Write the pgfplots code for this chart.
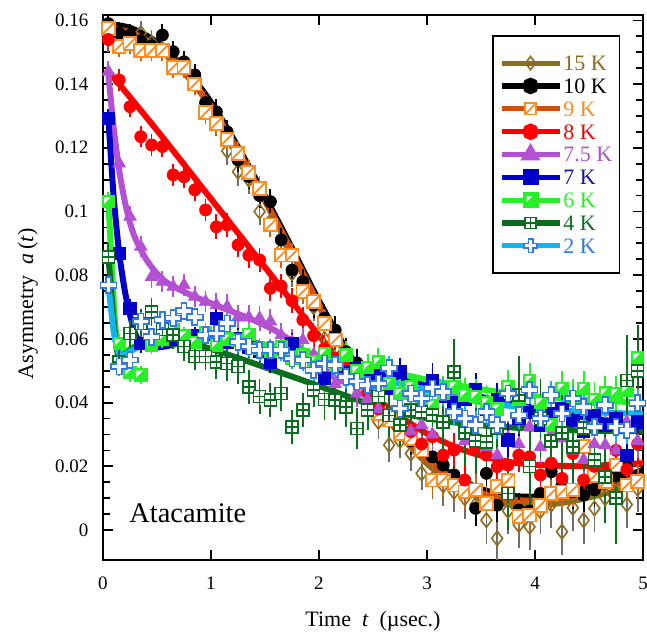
\documentclass[border=0pt]{standalone}
\usepackage{fontspec}
\setmainfont{Liberation Serif}
\usepackage{pgfplots}
\pgfplotsset{compat=1.18}
\usepackage{pgfplotstable}

\definecolor{c15}{RGB}{140,108,30}
\definecolor{c15e}{RGB}{110,110,110}
\definecolor{c9l}{RGB}{210,80,10}
\definecolor{c9m}{RGB}{255,140,30}
\definecolor{c9e}{RGB}{200,100,30}
\definecolor{c8}{RGB}{255,0,0}
\definecolor{c75}{RGB}{180,80,210}
\definecolor{c7}{RGB}{0,0,200}
\definecolor{c7t}{RGB}{20,20,170}
\definecolor{c6}{RGB}{40,240,40}
\definecolor{c4}{RGB}{10,110,30}
\definecolor{c2l}{RGB}{20,180,240}
\definecolor{c2m}{RGB}{50,120,230}

\pgfdeclareplotmark{slashsq}{%
  \pgfpathrectangle{\pgfpoint{-\pgfplotmarksize}{-\pgfplotmarksize}}{\pgfpoint{2\pgfplotmarksize}{2\pgfplotmarksize}}%
  \pgfusepathqfillstroke
  \pgfpathmoveto{\pgfpoint{-\pgfplotmarksize}{-\pgfplotmarksize}}%
  \pgfpathlineto{\pgfpoint{\pgfplotmarksize}{\pgfplotmarksize}}%
  \pgfusepathqstroke}
\pgfdeclareplotmark{halfsq}{%
  \pgfpathrectangle{\pgfpoint{-\pgfplotmarksize}{-\pgfplotmarksize}}{\pgfpoint{2\pgfplotmarksize}{2\pgfplotmarksize}}%
  \pgfusepathqfillstroke
  \pgfscope
  \pgfsetfillcolor{white}%
  \pgfpathmoveto{\pgfpoint{-0.7\pgfplotmarksize}{-0.35\pgfplotmarksize}}%
  \pgfpathlineto{\pgfpoint{-0.7\pgfplotmarksize}{0.7\pgfplotmarksize}}%
  \pgfpathlineto{\pgfpoint{0.35\pgfplotmarksize}{0.7\pgfplotmarksize}}%
  \pgfpathclose
  \pgfusepathqfill
  \endpgfscope}
\pgfdeclareplotmark{gridsq}{%
  \pgfpathrectangle{\pgfpoint{-\pgfplotmarksize}{-\pgfplotmarksize}}{\pgfpoint{2\pgfplotmarksize}{2\pgfplotmarksize}}%
  \pgfusepathqfillstroke
  \pgfpathmoveto{\pgfpoint{-\pgfplotmarksize}{0pt}}\pgfpathlineto{\pgfpoint{\pgfplotmarksize}{0pt}}%
  \pgfpathmoveto{\pgfpoint{0pt}{-\pgfplotmarksize}}\pgfpathlineto{\pgfpoint{0pt}{\pgfplotmarksize}}%
  \pgfusepathqstroke}
\pgfdeclareplotmark{gcross}{%
  \pgfpathmoveto{\pgfpoint{-0.33\pgfplotmarksize}{\pgfplotmarksize}}%
  \pgfpathlineto{\pgfpoint{0.33\pgfplotmarksize}{\pgfplotmarksize}}%
  \pgfpathlineto{\pgfpoint{0.33\pgfplotmarksize}{0.33\pgfplotmarksize}}%
  \pgfpathlineto{\pgfpoint{\pgfplotmarksize}{0.33\pgfplotmarksize}}%
  \pgfpathlineto{\pgfpoint{\pgfplotmarksize}{-0.33\pgfplotmarksize}}%
  \pgfpathlineto{\pgfpoint{0.33\pgfplotmarksize}{-0.33\pgfplotmarksize}}%
  \pgfpathlineto{\pgfpoint{0.33\pgfplotmarksize}{-\pgfplotmarksize}}%
  \pgfpathlineto{\pgfpoint{-0.33\pgfplotmarksize}{-\pgfplotmarksize}}%
  \pgfpathlineto{\pgfpoint{-0.33\pgfplotmarksize}{-0.33\pgfplotmarksize}}%
  \pgfpathlineto{\pgfpoint{-\pgfplotmarksize}{-0.33\pgfplotmarksize}}%
  \pgfpathlineto{\pgfpoint{-\pgfplotmarksize}{0.33\pgfplotmarksize}}%
  \pgfpathlineto{\pgfpoint{-0.33\pgfplotmarksize}{0.33\pgfplotmarksize}}%
  \pgfpathclose
  \pgfusepathqfillstroke}

% ---------------- data: t, asymmetry, error ----------------
\pgfplotstableread{
t v e
0.05 0.1540 0.0025
0.15 0.1530 0.0025
0.25 0.1545 0.0025
0.35 0.1560 0.0025
0.45 0.1530 0.0025
0.55 0.1510 0.0025
0.65 0.1480 0.0025
0.75 0.1460 0.0025
0.85 0.1410 0.0025
0.95 0.1340 0.0025
1.05 0.1290 0.003
1.15 0.1190 0.003
1.25 0.1125 0.003
1.35 0.1100 0.003
1.45 0.1000 0.003
1.55 0.0970 0.003
1.65 0.0880 0.003
1.75 0.0806 0.003
1.85 0.0760 0.003
1.95 0.0700 0.003
2.05 0.0600 0.004
2.15 0.0570 0.004
2.25 0.0520 0.004
2.35 0.0460 0.004
2.45 0.0400 0.004
2.55 0.0340 0.004
2.65 0.0267 0.004
2.75 0.0280 0.004
2.85 0.0240 0.004
2.95 0.0178 0.004
3.05 0.0160 0.005
3.15 0.0140 0.005
3.25 0.0120 0.005
3.35 0.0100 0.005
3.45 0.0080 0.005
3.55 0.0031 0.006
3.65 -0.0026 0.006
3.75 0.0060 0.006
3.85 0.0016 0.006
3.95 0.0010 0.006
4.05 0.0060 0.006
4.15 0.0080 0.006
4.25 -0.0005 0.006
4.35 0.0070 0.006
4.45 0.0031 0.006
4.55 0.0068 0.006
4.65 0.0100 0.006
4.75 0.0120 0.006
4.85 0.0080 0.006
4.95 0.0130 0.006
}\tA
\pgfplotstableread{
t v e
0.05 0.1590 0.002
0.15 0.1560 0.002
0.25 0.1554 0.002
0.35 0.1536 0.002
0.45 0.1520 0.002
0.55 0.1554 0.002
0.65 0.1502 0.002
0.75 0.1470 0.002
0.85 0.1429 0.002
0.95 0.1342 0.002
1.05 0.1313 0.0025
1.15 0.1250 0.0025
1.25 0.1162 0.0025
1.35 0.1110 0.0025
1.45 0.1050 0.0025
1.55 0.1031 0.0025
1.65 0.0911 0.0025
1.75 0.0816 0.0025
1.85 0.0780 0.0025
1.95 0.0706 0.0025
2.05 0.0665 0.003
2.15 0.0628 0.003
2.25 0.0560 0.003
2.35 0.0525 0.003
2.45 0.0450 0.003
2.55 0.0400 0.003
2.65 0.0350 0.003
2.75 0.0310 0.003
2.85 0.0280 0.003
2.95 0.0250 0.003
3.05 0.0230 0.004
3.15 0.0204 0.004
3.25 0.0173 0.004
3.35 0.0130 0.004
3.45 0.0068 0.004
3.55 0.0178 0.004
3.65 0.0078 0.004
3.75 0.0120 0.004
3.85 0.0063 0.004
3.95 0.0060 0.004
4.05 0.0115 0.004
4.15 0.0183 0.004
4.25 0.0140 0.004
4.35 0.0120 0.004
4.45 0.0110 0.004
4.55 0.0126 0.004
4.65 0.0150 0.004
4.75 0.0170 0.004
4.85 0.0199 0.004
4.95 0.0157 0.004
}\tB
\pgfplotstableread{
t v e
0.05 0.1575 0.002
0.15 0.1518 0.002
0.25 0.1528 0.002
0.35 0.1505 0.002
0.45 0.1505 0.002
0.55 0.1505 0.002
0.65 0.1453 0.002
0.75 0.1453 0.002
0.85 0.1400 0.002
0.95 0.1310 0.002
1.05 0.1277 0.0025
1.15 0.1227 0.0025
1.25 0.1183 0.0025
1.35 0.1123 0.0025
1.45 0.1073 0.0025
1.55 0.0958 0.0025
1.65 0.0863 0.0025
1.75 0.0863 0.0025
1.85 0.0748 0.0025
1.95 0.0717 0.0025
2.05 0.0649 0.003
2.15 0.0597 0.003
2.25 0.0540 0.003
2.35 0.0500 0.003
2.45 0.0440 0.003
2.55 0.0366 0.003
2.65 0.0345 0.003
2.75 0.0304 0.003
2.85 0.0288 0.003
2.95 0.0251 0.003
3.05 0.0157 0.004
3.15 0.0157 0.004
3.25 0.0141 0.004
3.35 0.0120 0.004
3.45 0.0126 0.004
3.55 0.0084 0.004
3.65 0.0136 0.004
3.75 0.0157 0.004
3.85 0.0042 0.004
3.95 0.0047 0.004
4.05 0.0078 0.004
4.15 0.0115 0.004
4.25 0.0120 0.004
4.35 0.0126 0.004
4.45 0.0262 0.004
4.55 0.0170 0.004
4.65 0.0152 0.004
4.75 0.0204 0.004
4.85 0.0141 0.004
4.95 0.0152 0.004
}\tC
\pgfplotstableread{
t v e
0.05 0.1540 0.002
0.15 0.1413 0.002
0.25 0.1329 0.002
0.35 0.1235 0.002
0.45 0.1209 0.002
0.55 0.1204 0.002
0.65 0.1115 0.002
0.75 0.1109 0.002
0.85 0.1068 0.002
0.95 0.1005 0.002
1.05 0.0952 0.0025
1.15 0.0958 0.0025
1.25 0.0895 0.0025
1.35 0.0863 0.0025
1.45 0.0848 0.0025
1.55 0.0759 0.0025
1.65 0.0766 0.0025
1.75 0.0720 0.0025
1.85 0.0660 0.0025
1.95 0.0610 0.0025
2.05 0.0570 0.003
2.15 0.0540 0.003
2.25 0.0518 0.003
2.35 0.0470 0.003
2.45 0.0430 0.003
2.55 0.0380 0.003
2.65 0.0360 0.003
2.75 0.0330 0.003
2.85 0.0309 0.003
2.95 0.0270 0.003
3.05 0.0293 0.004
3.15 0.0235 0.004
3.25 0.0251 0.004
3.35 0.0157 0.004
3.45 0.0260 0.004
3.55 0.0235 0.004
3.65 0.0199 0.004
3.75 0.0204 0.004
3.85 0.0235 0.004
3.95 0.0230 0.004
4.05 0.0173 0.004
4.15 0.0210 0.004
4.25 0.0162 0.004
4.35 0.0240 0.004
4.45 0.0157 0.004
4.55 0.0200 0.004
4.65 0.0180 0.004
4.75 0.0250 0.004
4.85 0.0190 0.004
4.95 0.0270 0.004
}\tD
\pgfplotstableread{
t v e
0.05 0.1439 0.002
0.15 0.1151 0.002
0.25 0.0984 0.002
0.35 0.0890 0.002
0.45 0.0795 0.002
0.55 0.0780 0.002
0.65 0.0764 0.002
0.75 0.0769 0.002
0.85 0.0733 0.002
0.95 0.0717 0.002
1.05 0.0706 0.0025
1.15 0.0701 0.0025
1.25 0.0668 0.0025
1.35 0.0668 0.0025
1.45 0.0665 0.0025
1.55 0.0655 0.0025
1.65 0.0612 0.0025
1.75 0.0591 0.0025
1.85 0.0596 0.0025
1.95 0.0550 0.0025
2.05 0.0500 0.003
2.15 0.0458 0.003
2.25 0.0470 0.003
2.35 0.0429 0.003
2.45 0.0410 0.003
2.55 0.0380 0.003
2.65 0.0360 0.003
2.75 0.0340 0.003
2.85 0.0310 0.003
2.95 0.0330 0.003
3.05 0.0300 0.004
3.15 0.0340 0.004
3.25 0.0408 0.004
3.35 0.0280 0.004
3.45 0.0300 0.004
3.55 0.0260 0.004
3.65 0.0235 0.004
3.75 0.0290 0.004
3.85 0.0270 0.004
3.95 0.0324 0.004
4.05 0.0260 0.004
4.15 0.0300 0.004
4.25 0.0288 0.004
4.35 0.0250 0.004
4.45 0.0220 0.004
4.55 0.0270 0.004
4.65 0.0267 0.004
4.75 0.0250 0.004
4.85 0.0340 0.004
4.95 0.0280 0.004
}\tE
\pgfplotstableread{
t v e
0.05 0.1293 0.0015
0.15 0.0869 0.0015
0.25 0.0695 0.0015
0.35 0.0586 0.0015
0.45 0.0580 0.0015
0.55 0.0617 0.0015
0.65 0.0600 0.0015
0.75 0.0595 0.0015
0.85 0.0610 0.0015
0.95 0.0615 0.0015
1.05 0.0665 0.002
1.15 0.0591 0.002
1.25 0.0600 0.002
1.35 0.0575 0.002
1.45 0.0560 0.002
1.55 0.0528 0.002
1.65 0.0570 0.002
1.75 0.0586 0.002
1.85 0.0550 0.002
1.95 0.0525 0.002
2.05 0.0476 0.003
2.15 0.0520 0.003
2.25 0.0495 0.003
2.35 0.0510 0.003
2.45 0.0470 0.003
2.55 0.0490 0.003
2.65 0.0445 0.003
2.75 0.0497 0.003
2.85 0.0430 0.003
2.95 0.0410 0.003
3.05 0.0470 0.004
3.15 0.0420 0.004
3.25 0.0400 0.004
3.35 0.0410 0.004
3.45 0.0440 0.004
3.55 0.0380 0.004
3.65 0.0408 0.004
3.75 0.0283 0.004
3.85 0.0350 0.004
3.95 0.0370 0.004
4.05 0.0330 0.004
4.15 0.0366 0.004
4.25 0.0380 0.004
4.35 0.0345 0.004
4.45 0.0310 0.004
4.55 0.0360 0.004
4.65 0.0330 0.004
4.75 0.0350 0.004
4.85 0.0235 0.004
4.95 0.0340 0.004
}\tF
\pgfplotstableread{
t v e
0.05 0.1031 0.0015
0.15 0.0586 0.0015
0.25 0.0495 0.0015
0.35 0.0487 0.0015
0.45 0.0580 0.0015
0.55 0.0600 0.0015
0.65 0.0628 0.0015
0.75 0.0610 0.0015
0.85 0.0590 0.0015
0.95 0.0620 0.0015
1.05 0.0580 0.002
1.15 0.0600 0.002
1.25 0.0595 0.002
1.35 0.0615 0.002
1.45 0.0570 0.002
1.55 0.0560 0.002
1.65 0.0575 0.002
1.75 0.0540 0.002
1.85 0.0550 0.002
1.95 0.0530 0.002
2.05 0.0555 0.003
2.15 0.0520 0.003
2.25 0.0550 0.003
2.35 0.0500 0.003
2.45 0.0510 0.003
2.55 0.0528 0.003
2.65 0.0460 0.003
2.75 0.0429 0.003
2.85 0.0450 0.003
2.95 0.0410 0.003
3.05 0.0392 0.004
3.15 0.0430 0.004
3.25 0.0450 0.004
3.35 0.0424 0.004
3.45 0.0419 0.004
3.55 0.0400 0.004
3.65 0.0380 0.004
3.75 0.0450 0.004
3.85 0.0410 0.004
3.95 0.0470 0.004
4.05 0.0400 0.004
4.15 0.0330 0.004
4.25 0.0445 0.004
4.35 0.0420 0.004
4.45 0.0445 0.004
4.55 0.0410 0.004
4.65 0.0430 0.004
4.75 0.0429 0.004
4.85 0.0440 0.004
4.95 0.0540 0.004
}\tG
\pgfplotstableread{
t v e
0.05 0.0858 0.003
0.15 0.0528 0.003
0.25 0.0617 0.003
0.35 0.0649 0.003
0.45 0.0685 0.003
0.55 0.0630 0.003
0.65 0.0612 0.003
0.75 0.0576 0.003
0.85 0.0545 0.003
0.95 0.0545 0.003
1.05 0.0528 0.004
1.15 0.0523 0.004
1.25 0.0513 0.004
1.35 0.0450 0.004
1.45 0.0419 0.004
1.55 0.0408 0.004
1.65 0.0429 0.004
1.75 0.0324 0.004
1.85 0.0377 0.004
1.95 0.0440 0.004
2.05 0.0410 0.005
2.15 0.0408 0.005
2.25 0.0387 0.005
2.35 0.0319 0.005
2.45 0.0377 0.005
2.55 0.0419 0.006
2.65 0.0360 0.006
2.75 0.0330 0.006
2.85 0.0377 0.006
2.95 0.0370 0.006
3.05 0.0361 0.008
3.15 0.0340 0.008
3.25 0.0497 0.009
3.35 0.0304 0.009
3.45 0.0280 0.009
3.55 0.0277 0.009
3.65 0.0320 0.010
3.75 0.0115 0.010
3.85 0.0424 0.011
3.95 0.0199 0.011
4.05 0.0350 0.011
4.15 0.0280 0.011
4.25 0.0304 0.012
4.35 0.0260 0.012
4.45 0.0320 0.012
4.55 0.0220 0.012
4.65 0.0167 0.013
4.75 0.0100 0.013
4.85 0.0470 0.013
4.95 0.0500 0.013
}\tH
\pgfplotstableread{
t v e
0.05 0.0769 0.0015
0.15 0.0513 0.0015
0.25 0.0534 0.0015
0.35 0.0655 0.0015
0.45 0.0607 0.0015
0.55 0.0660 0.0015
0.65 0.0665 0.0015
0.75 0.0688 0.0015
0.85 0.0668 0.0015
0.95 0.0612 0.0015
1.05 0.0617 0.002
1.15 0.0649 0.002
1.25 0.0591 0.002
1.35 0.0576 0.002
1.45 0.0565 0.002
1.55 0.0565 0.002
1.65 0.0565 0.002
1.75 0.0539 0.002
1.85 0.0534 0.002
1.95 0.0502 0.002
2.05 0.0523 0.0025
2.15 0.0518 0.0025
2.25 0.0481 0.0025
2.35 0.0466 0.0025
2.45 0.0455 0.0025
2.55 0.0460 0.0025
2.65 0.0508 0.0025
2.75 0.0382 0.0025
2.85 0.0429 0.0025
2.95 0.0413 0.0025
3.05 0.0445 0.003
3.15 0.0434 0.003
3.25 0.0371 0.003
3.35 0.0350 0.003
3.45 0.0330 0.003
3.55 0.0371 0.003
3.65 0.0330 0.003
3.75 0.0429 0.003
3.85 0.0361 0.003
3.95 0.0440 0.003
4.05 0.0350 0.003
4.15 0.0424 0.003
4.25 0.0366 0.003
4.35 0.0413 0.003
4.45 0.0387 0.003
4.55 0.0324 0.003
4.65 0.0392 0.003
4.75 0.0324 0.003
4.85 0.0314 0.003
4.95 0.0398 0.003
}\tI

\begin{document}
\begin{tikzpicture}
\begin{axis}[
  scale only axis, width=270pt, height=272.5pt,
  xmin=0, xmax=5, ymin=-0.0094, ymax=0.1617,
  xtick={0,1,2,3,4,5},
  ytick={0,0.02,0.04,0.06,0.08,0.1,0.12,0.14,0.16},
  minor y tick num=3,
  tick align=inside, major tick length=5pt, minor tick length=3.5pt,
  axis line style={line width=1pt},
  every tick/.style={black, line width=0.9pt},
  scaled y ticks=false,
  /pgf/number format/assume math mode=true,
  yticklabel style={/pgf/number format/fixed, /pgf/number format/precision=2, font=\fontsize{9.5}{10}\selectfont, xshift=-3.8pt},
  xticklabel style={font=\fontsize{9.5}{10}\selectfont, yshift=-5pt},
  xlabel={Time\ \ \textit{t}\ \ (µsec.)},
  ylabel={Asymmetry\ \ \textit{a}\,(\textit{t})},
  label style={font=\fontsize{11}{12}\selectfont},
  xlabel style={at={(axis description cs:0.5,-0.112)}, anchor=center},
  ylabel style={at={(axis description cs:-0.139,0.47)}, anchor=center},
  legend image code/.code={\draw[mark repeat=2,mark phase=2,#1] plot coordinates {(0pt,0pt) (14.5pt,0pt) (29pt,0pt)};},
  legend style={at={(axis description cs:0.958,0.963)}, anchor=north east, draw=black, line width=0.9pt, fill=white,
    font=\fontsize{11}{11}\selectfont, inner xsep=3pt, inner ysep=9.3pt, row sep=2.95pt,
    cells={anchor=west}, nodes={inner sep=0.6pt, text depth=0pt}},
]
% fitted curves
\addplot[forget plot, c15, line width=2.6pt, smooth] coordinates {(0,0.1570) (0.25,0.1557) (0.5,0.1512) (0.75,0.1435) (1.0,0.1325) (1.25,0.1185) (1.5,0.1030) (1.75,0.0868) (2.0,0.0700) (2.25,0.0548) (2.5,0.0412) (2.75,0.0297) (3.0,0.0207) (3.25,0.0142) (3.5,0.0100) (3.75,0.0080) (4.0,0.0076) (4.25,0.0084) (4.5,0.0101) (4.75,0.0124) (5.0,0.0150)};
\addplot[forget plot, black, line width=2.6pt, smooth] coordinates {(0,0.1592) (0.25,0.1578) (0.5,0.1533) (0.75,0.1455) (1.0,0.1345) (1.25,0.1205) (1.5,0.1050) (1.75,0.0888) (2.0,0.0722) (2.25,0.0572) (2.5,0.0437) (2.75,0.0322) (3.0,0.0237) (3.25,0.0172) (3.5,0.0130) (3.75,0.0110) (4.0,0.0106) (4.25,0.0116) (4.5,0.0136) (4.75,0.0161) (5.0,0.0190)};
\addplot[forget plot, c9l, line width=3pt, smooth] coordinates {(0,0.1578) (0.25,0.1563) (0.5,0.1518) (0.75,0.1441) (1.0,0.1331) (1.25,0.1191) (1.5,0.1036) (1.75,0.0874) (2.0,0.0708) (2.25,0.0558) (2.5,0.0424) (2.75,0.0309) (3.0,0.0222) (3.25,0.0158) (3.5,0.0116) (3.75,0.0096) (4.0,0.0093) (4.25,0.0102) (4.5,0.0120) (4.75,0.0144) (5.0,0.0170)};
\addplot[forget plot, c8, line width=3pt, smooth, tension=0.5] coordinates {(0.06,0.1437) (0.5,0.1255) (1.0,0.1040) (1.5,0.0825) (2.0,0.0610) (2.2,0.0530) (2.4,0.0458) (2.6,0.0395) (2.8,0.0345) (3.0,0.0303) (3.2,0.0270) (3.4,0.0244) (3.6,0.0225) (3.8,0.0212) (4.0,0.0205) (4.3,0.0201) (4.6,0.0203) (5.0,0.0210)};
\addplot[forget plot, c75, line width=3pt, smooth, tension=0.5] coordinates {(0.05,0.1430) (0.1,0.1260) (0.15,0.1130) (0.2,0.1035) (0.25,0.0965) (0.3,0.0915) (0.4,0.0850) (0.5,0.0805) (0.6,0.0775) (0.8,0.0740) (1.0,0.0712) (1.2,0.0685) (1.4,0.0658) (1.6,0.0625) (1.8,0.0580) (2.0,0.0520) (2.2,0.0462)};
\addplot[forget plot, c7, line width=3pt, smooth, tension=0.4] coordinates {(0.05,0.1290) (0.1,0.1040) (0.15,0.0870) (0.2,0.0755) (0.25,0.0675) (0.3,0.0615) (0.35,0.0585) (0.45,0.0572) (0.6,0.0578) (0.8,0.0594) (1.0,0.0604) (1.3,0.0593) (1.6,0.0575) (2.0,0.0545) (2.5,0.0500) (3.0,0.0458) (3.5,0.0418) (4.0,0.0382) (4.5,0.0352) (5.0,0.0330)};
\addplot[forget plot, c6, line width=3pt, smooth, tension=0.4] coordinates {(0.05,0.1030) (0.08,0.0840) (0.11,0.0660) (0.14,0.0575) (0.2,0.0560) (0.3,0.0578) (0.5,0.0598) (1.0,0.0603) (1.5,0.0582) (2.0,0.0550) (2.5,0.0510) (3.0,0.0472) (3.5,0.0442) (4.0,0.0420) (4.5,0.0408) (5.0,0.0400)};
\addplot[forget plot, c4, line width=3pt, smooth, tension=0.4] coordinates {(0.05,0.0860) (0.1,0.0650) (0.14,0.0548) (0.2,0.0552) (0.3,0.0574) (0.45,0.0585) (0.6,0.0586) (0.9,0.0578) (1.2,0.0546) (1.5,0.0511) (1.8,0.0476) (2.1,0.0440) (2.4,0.0403) (2.7,0.0372) (3.0,0.0351) (3.3,0.0336) (3.6,0.0326) (4.0,0.0318) (4.5,0.0312) (5.0,0.0310)};
\addplot[forget plot, c2l, line width=3pt, smooth, tension=0.4] coordinates {(0.05,0.0770) (0.1,0.0620) (0.15,0.0552) (0.2,0.0550) (0.3,0.0570) (0.5,0.0595) (0.8,0.0608) (1.0,0.0605) (1.3,0.0590) (1.6,0.0570) (2.0,0.0535) (2.5,0.0482) (3.0,0.0437) (3.5,0.0402) (4.0,0.0381) (4.5,0.0370) (5.0,0.0365)};
% data points
\addplot[forget plot, only marks, mark=diamond, mark size=3.6pt, mark options={draw=c15, fill=white, line width=0.8pt},
  error bars/.cd, y dir=both, y explicit, error bar style={c15e, line width=0.9pt}, error mark options={c15e, mark size=2.2pt, line width=0.9pt}]
  table[x=t, y=v, y error=e] {\tA};
\addplot[forget plot, only marks, mark=*, mark size=3pt, mark options={black},
  error bars/.cd, y dir=both, y explicit, error bar style={black, line width=0.9pt}, error mark options={black, mark size=2.2pt, line width=0.9pt}]
  table[x=t, y=v, y error=e] {\tB};
\addplot[forget plot, only marks, mark=slashsq, mark size=3.2pt, mark options={draw=c9m, fill=white, line width=0.9pt},
  error bars/.cd, y dir=both, y explicit, error bar style={c9e, line width=0.9pt}, error mark options={c9e, mark size=2.2pt, line width=0.9pt}]
  table[x=t, y=v, y error=e] {\tC};
\addplot[forget plot, only marks, mark=*, mark size=3pt, mark options={c8},
  error bars/.cd, y dir=both, y explicit, error bar style={c8, line width=0.9pt}, error mark options={c8, mark size=2.2pt, line width=0.9pt}]
  table[x=t, y=v, y error=e] {\tD};
\addplot[forget plot, only marks, mark=triangle*, mark size=3.6pt, mark options={c75},
  error bars/.cd, y dir=both, y explicit, error bar style={c75, line width=0.9pt}, error mark options={c75, mark size=2.2pt, line width=0.9pt}]
  table[x=t, y=v, y error=e] {\tE};
\addplot[forget plot, only marks, mark=square*, mark size=3.1pt, mark options={c7},
  error bars/.cd, y dir=both, y explicit, error bar style={c7, line width=0.9pt}, error mark options={c7, mark size=2.2pt, line width=0.9pt}]
  table[x=t, y=v, y error=e] {\tF};
\addplot[forget plot, only marks, mark=halfsq, mark size=3.1pt, mark options={c6},
  error bars/.cd, y dir=both, y explicit, error bar style={c6, line width=0.9pt}, error mark options={c6, mark size=2.2pt, line width=0.9pt}]
  table[x=t, y=v, y error=e] {\tG};
\addplot[forget plot, only marks, mark=gridsq, mark size=3pt, mark options={draw=c4, fill=white, line width=0.8pt},
  error bars/.cd, y dir=both, y explicit, error bar style={c4, line width=0.9pt}, error mark options={c4, mark size=2.2pt, line width=0.9pt}]
  table[x=t, y=v, y error=e] {\tH};
\addplot[forget plot, only marks, mark=gcross, mark size=4pt, mark options={draw=c2m, fill=white, line width=0.8pt},
  error bars/.cd, y dir=both, y explicit, error bar style={c2l, line width=0.9pt}, error mark options={c2l, mark size=2.2pt, line width=0.9pt}]
  table[x=t, y=v, y error=e] {\tI};
% legend
\addlegendimage{c15, line width=2.6pt, mark=diamond, mark options={draw=c15, fill=white, line width=0.8pt, mark size=3.3pt}}
\addlegendentry{\textcolor{c15}{15 K}}
\addlegendimage{black, line width=2.6pt, mark=*, mark options={black, mark size=2.8pt}}
\addlegendentry{10 K}
\addlegendimage{c9l, line width=2.6pt, mark=slashsq, mark options={draw=c9m, fill=white, line width=0.9pt, mark size=2.8pt}}
\addlegendentry{\textcolor{c9m}{9 K}}
\addlegendimage{c8, line width=2.6pt, mark=*, mark options={c8, mark size=2.8pt}}
\addlegendentry{\textcolor{c8}{8 K}}
\addlegendimage{c75, line width=2.6pt, mark=triangle*, mark options={c75, mark size=3.2pt}}
\addlegendentry{\textcolor{c75}{7.5 K}}
\addlegendimage{c7, line width=2.6pt, mark=square*, mark options={c7, mark size=2.7pt}}
\addlegendentry{\textcolor{c7t}{7 K}}
\addlegendimage{c6, line width=2.6pt, mark=halfsq, mark options={c6, mark size=2.7pt}}
\addlegendentry{\textcolor{c6}{6 K}}
\addlegendimage{c4, line width=2.6pt, mark=gridsq, mark options={draw=c4, fill=white, line width=0.8pt, mark size=2.7pt}}
\addlegendentry{\textcolor{c4}{4 K}}
\addlegendimage{c2l, line width=2.6pt, mark=gcross, mark options={draw=c2m, fill=white, line width=0.8pt, mark size=3.3pt}}
\addlegendentry{\textcolor{c2m}{2 K}}
\node[font=\fontsize{14.2}{15}\selectfont] at (axis description cs:0.157,0.086) {Atacamite};
\end{axis}
\pgfresetboundingbox
\useasboundingbox ([xshift=-51.5pt,yshift=-37.5pt]current axis.south west) rectangle ([xshift=2pt,yshift=7.5pt]current axis.north east);
\end{tikzpicture}
\end{document}
